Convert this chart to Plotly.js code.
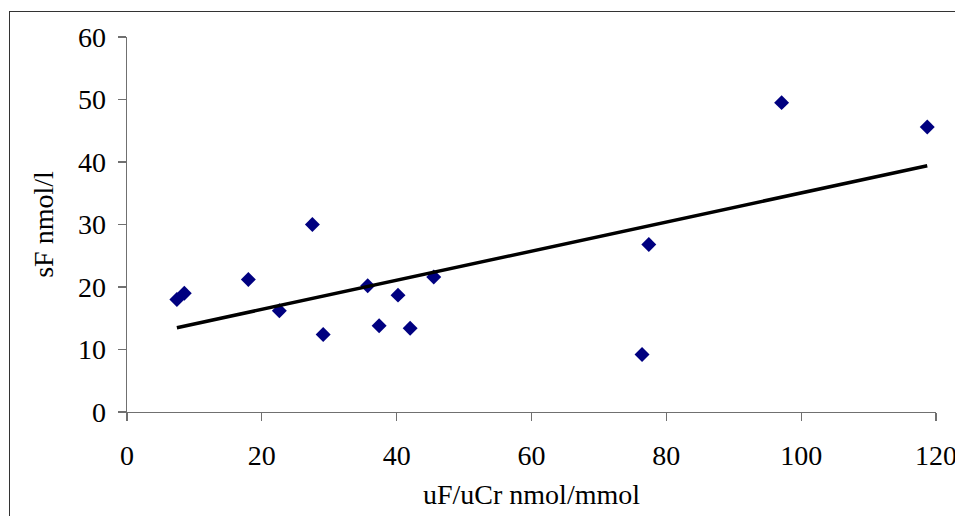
<!DOCTYPE html>
<html>
<head>
<meta charset="utf-8">
<script src="https://cdn.plot.ly/plotly-3.0.1.min.js"></script>
<style>
  html, body { margin: 0; padding: 0; background: #fff; }
  #wrap { position: relative; width: 955px; height: 516px; overflow: hidden; }
  #chart { position: absolute; left: 0; top: 0; width: 955px; height: 516px; }
  #frame { position: absolute; left: 9px; top: 11px; width: 1000px; height: 600px;
           border: 1.5px solid #333; pointer-events: none; }
</style>
</head>
<body>
<div id="wrap">
  <div id="chart"></div>
  <div id="frame"></div>
</div>
<script>
// uF/uCr (nmol/mmol) vs sF (nmol/l)
const uF_uCr = [7.4, 8.5, 18.0, 22.6, 29.1, 35.7, 37.4, 40.2, 42.0, 45.5, 27.5, 77.4, 97.1, 118.7, 76.4];
const sF     = [18.0, 19.0, 21.2, 16.2, 12.4, 20.2, 13.8, 18.7, 13.4, 21.6, 30.0, 26.8, 49.5, 45.6, 9.2];
const xTicks = [0, 20, 40, 60, 80, 100, 120];
const yTicks = [0, 10, 20, 30, 40, 50, 60];

// Linear least-squares trendline from the data
const n = uF_uCr.length;
const mx = uF_uCr.reduce((a, b) => a + b, 0) / n;
const my = sF.reduce((a, b) => a + b, 0) / n;
let sxy = 0, sxx = 0;
for (let i = 0; i < n; i++) { sxy += (uF_uCr[i] - mx) * (sF[i] - my); sxx += (uF_uCr[i] - mx) ** 2; }
const slope = sxy / sxx, intercept = my - slope * mx;
const xMin = Math.min(...uF_uCr), xMax = Math.max(...uF_uCr);
const trendX = [xMin, xMax];
const trendY = trendX.map(x => intercept + slope * x);

const font = "'Liberation Serif', 'Times New Roman', serif";

const data = [
  { x: uF_uCr, y: sF, type: 'scatter', mode: 'markers',
    marker: { symbol: 'diamond', size: 11.5, color: '#000080', line: { width: 0 } },
    hoverinfo: 'x+y' },
  { x: trendX, y: trendY, type: 'scatter', mode: 'lines',
    line: { color: '#000000', width: 3.5 }, hoverinfo: 'skip' }
];

const layout = {
  width: 955, height: 516,
  margin: { l: 127, r: 19, t: 37, b: 104 },
  paper_bgcolor: '#ffffff', plot_bgcolor: '#ffffff',
  showlegend: false,
  font: { family: font, color: '#000000', size: 28 },
  xaxis: {
    range: [0, 120], tickvals: xTicks, ticktext: xTicks.map(String),
    showgrid: false, zeroline: false,
    showline: true, linecolor: '#707070', linewidth: 1.3,
    ticks: 'outside', ticklen: 8, tickcolor: '#707070', tickwidth: 1.3,
    ticklabelstandoff: 10, ticklabeloverflow: 'allow',
    tickfont: { family: font, size: 28, color: '#000' },
    title: { text: 'uF/uCr nmol/mmol', font: { family: font, size: 28, color: '#000' }, standoff: 14 }
  },
  yaxis: {
    range: [0, 60], tickvals: yTicks, ticktext: yTicks.map(String),
    showgrid: false, zeroline: false,
    showline: true, linecolor: '#707070', linewidth: 1.3,
    ticks: 'outside', ticklen: 8, tickcolor: '#707070', tickwidth: 1.3,
    ticklabelstandoff: 6,
    tickfont: { family: font, size: 28, color: '#000' },
    title: { text: 'sF nmol/l', font: { family: font, size: 28, color: '#000' }, standoff: 16 }
  }
};

Plotly.newPlot('chart', data, layout, { displayModeBar: false, staticPlot: true });
</script>
</body>
</html>
